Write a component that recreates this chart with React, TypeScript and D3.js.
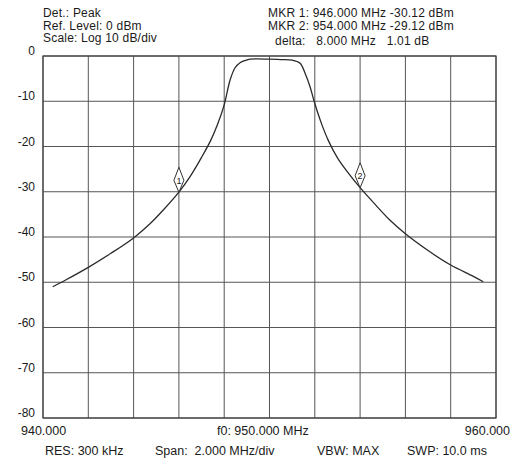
import {useEffect, useRef} from 'react';
import * as d3 from 'd3';

// trace (MHz, dBm)
const traceFreq = [940.43, 941.0, 942.0, 943.0, 944.0, 944.7, 945.3, 946.0, 946.5, 947.0, 947.4, 947.7, 948.0, 948.26, 948.48, 948.7, 948.92, 949.14, 950.0, 950.5, 951.0, 951.35, 951.57, 951.79, 951.97, 952.3, 952.6, 953.0, 953.5, 954.0, 954.7, 955.3, 956.0, 957.0, 958.0, 959.0, 959.44];
const traceLevel = [-51.0, -49.5, -46.7, -43.6, -40.2, -37.2, -34.1, -30.1, -26.6, -22.4, -18.7, -15.2, -10.8, -5.3, -2.6, -1.5, -1.0, -0.7, -0.7, -0.8, -0.9, -1.6, -3.8, -6.8, -10.0, -15.0, -18.7, -22.5, -26.0, -29.1, -33.0, -36.2, -39.3, -43.0, -46.2, -48.7, -49.9];

const markerNames = ['1', '2'];
const markerFreq = [946.0, 954.0];
const markerLevel = [-30.12, -29.12];

const levelTicks = [0, -10, -20, -30, -40, -50, -60, -70, -80];
const freqTicks = [940, 942, 944, 946, 948, 950, 952, 954, 956, 958, 960];

const headerLeft = ['Det.: Peak', 'Ref. Level: 0 dBm', 'Scale: Log 10 dB/div'];
const headerRight = ['MKR 1: 946.000 MHz -30.12 dBm', 'MKR 2: 954.000 MHz -29.12 dBm', '  delta:   8.000 MHz   1.01 dB'];
const footerLabels = ['RES: 300 kHz', 'Span:  2.000 MHz/div', 'VBW: MAX', 'SWP: 10.0 ms'];

const App = () => {
    const chartRef = useRef(null);

    useEffect(() => {
        const width = 531;
        const height = 459;
        const plot = {left: 43, right: 496, top: 56, bottom: 418};
        const font = 'Liberation Sans, Arial, sans-serif';
        const ink = '#1a1a1a';

        d3.select(chartRef.current).selectAll('svg').remove();

        const svg = d3.select(chartRef.current)
            .append('svg')
            .attr('width', width)
            .attr('height', height)
            .style('position', 'absolute')
            .style('left', 0)
            .style('top', 0)
            .style('background', '#fff')
            .style('font-family', font);

        const x = d3.scaleLinear().domain([940, 960]).range([plot.left, plot.right]);
        const y = d3.scaleLinear().domain([0, -80]).range([plot.top, plot.bottom]);

        // grid
        svg.append('g')
            .selectAll('line')
            .data(freqTicks)
            .enter().append('line')
            .attr('x1', d => x(d)).attr('x2', d => x(d))
            .attr('y1', plot.top).attr('y2', plot.bottom)
            .attr('stroke', '#555').attr('stroke-width', 1);

        svg.append('g')
            .selectAll('line')
            .data(levelTicks)
            .enter().append('line')
            .attr('x1', plot.left).attr('x2', plot.right)
            .attr('y1', d => y(d)).attr('y2', d => y(d))
            .attr('stroke', '#555').attr('stroke-width', 1);

        svg.append('rect')
            .attr('x', plot.left).attr('y', plot.top)
            .attr('width', plot.right - plot.left).attr('height', plot.bottom - plot.top)
            .attr('fill', 'none').attr('stroke', '#444').attr('stroke-width', 1.2);

        // level labels
        svg.append('g')
            .selectAll('text')
            .data(levelTicks)
            .enter().append('text')
            .attr('x', 35)
            .attr('y', d => y(d) - 1)
            .attr('text-anchor', 'end')
            .attr('font-size', 12)
            .attr('fill', ink)
            .text(d => `${d}`);

        // trace
        const pts = traceFreq.map((f, i) => [f, traceLevel[i]] as [number, number]);
        const line = d3.line<[number, number]>()
            .x(d => x(d[0]))
            .y(d => y(d[1]))
            .curve(d3.curveCatmullRom.alpha(0.5));

        svg.append('path')
            .datum(pts)
            .attr('d', line)
            .attr('fill', 'none')
            .attr('stroke', '#2a2a2a')
            .attr('stroke-width', 1.3);

        // markers
        const mk = svg.append('g')
            .selectAll('g')
            .data(markerNames)
            .enter().append('g')
            .attr('transform', (d, i) => `translate(${x(markerFreq[i])},${y(markerLevel[i])})`);

        mk.append('path')
            .attr('d', 'M0,0 L5,-12 L0,-25 L-5,-12 Z')
            .attr('fill', '#fff')
            .attr('stroke', '#333')
            .attr('stroke-width', 1);

        mk.append('text')
            .attr('x', 0)
            .attr('y', -8.5)
            .attr('text-anchor', 'middle')
            .attr('font-size', 9)
            .attr('fill', ink)
            .text(d => d);

        // header
        svg.append('g')
            .selectAll('text')
            .data(headerLeft)
            .enter().append('text')
            .attr('x', 43)
            .attr('y', (d, i) => [16.5, 29.5, 42][i])
            .attr('font-size', 12)
            .attr('letter-spacing', 0.2)
            .attr('fill', ink)
            .text(d => d);

        svg.append('g')
            .selectAll('text')
            .data(headerRight)
            .enter().append('text')
            .attr('x', 268)
            .attr('y', (d, i) => [16.5, 29.5, 45][i])
            .attr('font-size', 12)
            .attr('letter-spacing', 0.2)
            .attr('fill', ink)
            .style('white-space', 'pre')
            .text(d => d);

        // frequency labels
        const fl = svg.append('g').attr('font-size', 12.5).attr('fill', ink);
        fl.append('text').attr('x', 21).attr('y', 435).text('940.000');
        fl.append('text').attr('x', 217).attr('y', 435).text('f0: 950.000 MHz');
        fl.append('text').attr('x', 510).attr('y', 435).attr('text-anchor', 'end').text('960.000');

        svg.append('g')
            .selectAll('text')
            .data(footerLabels)
            .enter().append('text')
            .attr('x', (d, i) => [45, 155, 317, 407][i])
            .attr('y', 455)
            .attr('font-size', 12.5)
            .attr('fill', ink)
            .style('white-space', 'pre')
            .text(d => d);
    }, []);

    return <div ref={chartRef}></div>;
};

export default App;
